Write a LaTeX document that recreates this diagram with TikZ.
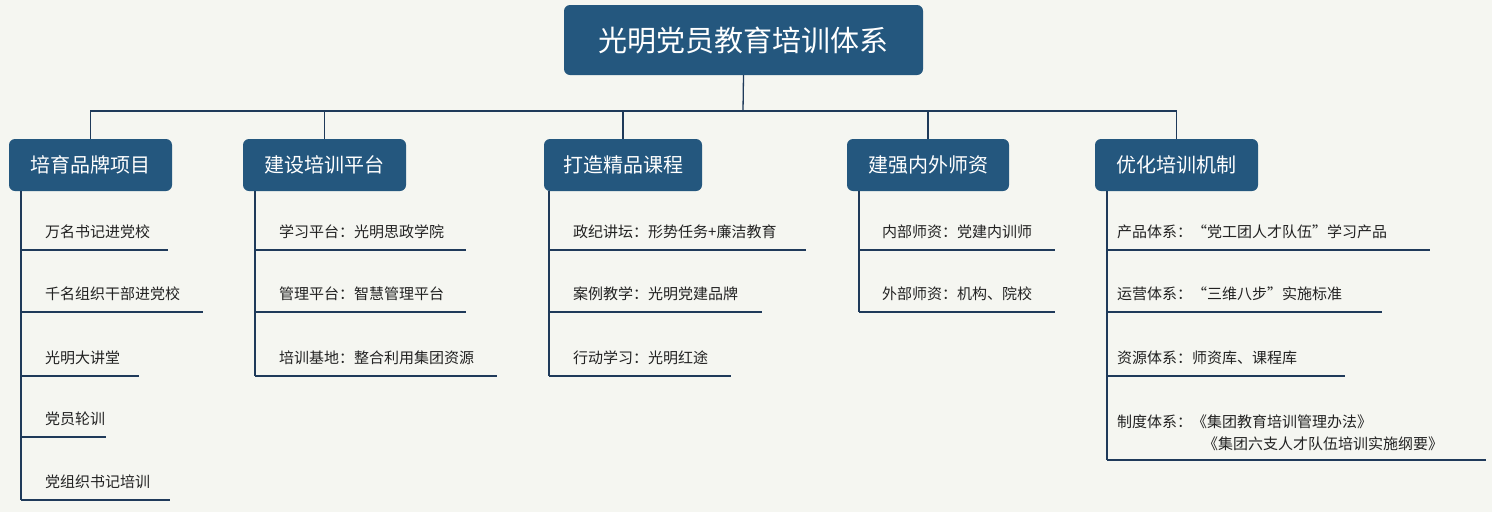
\documentclass[tikz,border=0pt]{standalone}
\usepackage{fontspec}
\newfontfamily\cjk{Noto Sans CJK SC}
\definecolor{boxc}{HTML}{24577E}
\definecolor{linec}{HTML}{1F3A5A}
\definecolor{bgc}{HTML}{F5F6F1}
\definecolor{txt}{HTML}{222222}
\begin{document}
\begin{tikzpicture}[x=1pt,y=-1pt,
  hbox/.style={fill=boxc,rounded corners=6pt,text=white,font=\cjk\fontsize{20}{24}\selectfont,minimum height=52pt,inner sep=0pt},
  item/.style={anchor=base west,text=txt,font=\cjk\fontsize{15}{18}\selectfont,inner sep=0pt},
  ln/.style={draw=linec,line width=1.3pt}]
\fill[bgc] (0,0) rectangle (1492,512);
\useasboundingbox (0,0) rectangle (1492,512);
\node[hbox,minimum width=359pt,minimum height=70pt,font=\cjk\fontsize{29}{34}\selectfont] (t) at (743.5,40) {光明党员教育培训体系};
\node[hbox,minimum width=163pt] (b1) at (90.5,165) {培育品牌项目};
\node[hbox,minimum width=163pt] (b2) at (324.5,165) {建设培训平台};
\node[hbox,minimum width=158pt] (b3) at (623,165) {打造精品课程};
\node[hbox,minimum width=162pt] (b4) at (928,165) {建强内外师资};
\node[hbox,minimum width=163pt] (b5) at (1176.5,165) {优化培训机制};
\coordinate (j) at (743,111);
\draw[ln] (t.south) -- (j);
\draw[ln] (b1.north) |- (b5.north |- j) -- (b5.north);
\foreach \b in {b2,b3,b4} \draw[ln] (\b.north) -- (\b.north |- j);
% col1
\foreach \y/\e/\t [count=\i] in {250/168/万名书记进党校,312/203/千名组织干部进党校,376/139/光明大讲堂,437/106/党员轮训,500/170/党组织书记培训}{
  \node[item] (c1i\i) at (45,\y-13) {\t};
  \coordinate (c1e\i) at (\e,\y);
  \draw[ln] (21,\y) -- (c1e\i);
}
\draw[ln] (21,191) -- (21,500);
% col2
\foreach \y/\e/\t [count=\i] in {250/466/学习平台：光明思政学院,312/466/管理平台：智慧管理平台,376/497/培训基地：整合利用集团资源}{
  \node[item] (c2i\i) at (279,\y-13) {\t};
  \draw[ln] (255,\y) -- (\e,\y);
}
\draw[ln] (255,191) -- (255,376);
% col3
\foreach \y/\e/\t [count=\i] in {250/806/政纪讲坛：形势任务+廉洁教育,312/762/案例教学：光明党建品牌,376/731/行动学习：光明红途}{
  \node[item] (c3i\i) at (573,\y-13) {\t};
  \draw[ln] (549,\y) -- (\e,\y);
}
\draw[ln] (549,191) -- (549,376);
% col4
\foreach \y/\t [count=\i] in {250/内部师资：党建内训师,312/外部师资：机构、院校}{
  \node[item] (c4i\i) at (882,\y-13) {\t};
  \draw[ln] (859,\y) -- (1055,\y);
}
\draw[ln] (859,191) -- (859,312);
% col5
\foreach \y/\e/\t [count=\i] in {250/1430/产品体系：“党工团人才队伍”学习产品,312/1382/运营体系：“三维八步”实施标准,376/1345/资源体系：师资库、课程库}{
  \node[item] (c5i\i) at (1117,\y-13) {\t};
  \draw[ln] (1107,\y) -- (\e,\y);
}
\node[item] (c5i4) at (1117,427) {制度体系：《集团教育培训管理办法》};
\node[item] (c5i5) at (1203,449) {《集团六支人才队伍培训实施纲要》};
\draw[ln] (1107,460) -- (1486,460);
\draw[ln] (1107,191) -- (1107,460);
\end{tikzpicture}
\end{document}
